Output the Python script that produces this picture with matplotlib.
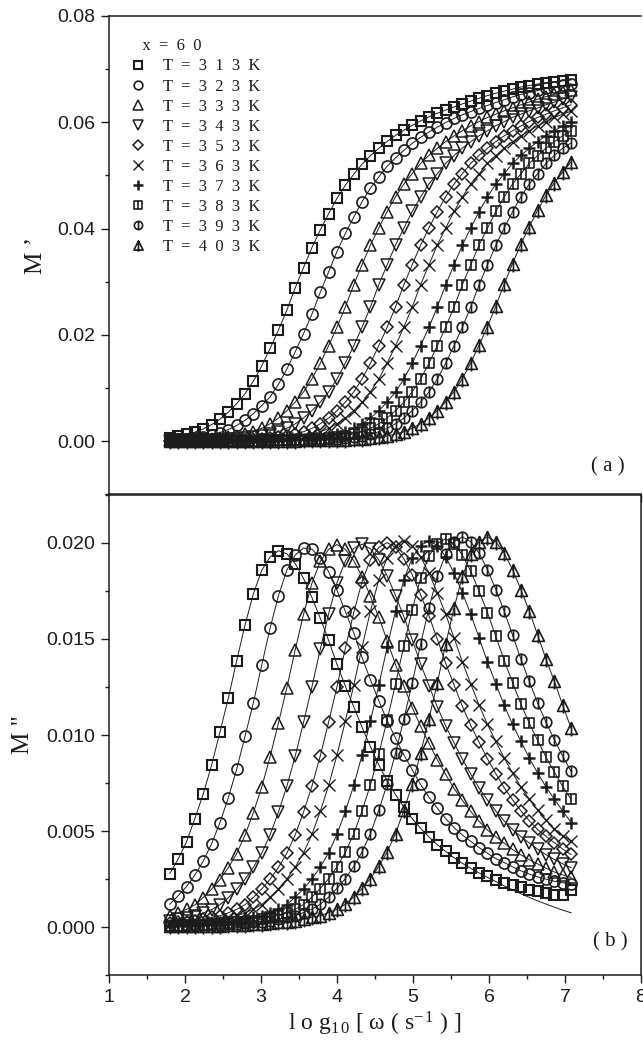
import matplotlib
matplotlib.use("Agg")
import matplotlib.pyplot as plt
from matplotlib.path import Path
from matplotlib.lines import Line2D
from matplotlib.ticker import MultipleLocator

plt.rcParams['font.family'] = 'Liberation Sans'
plt.rcParams['mathtext.fontset'] = 'custom'
plt.rcParams['mathtext.rm'] = 'Liberation Serif'
plt.rcParams['mathtext.it'] = 'Liberation Serif:italic'

# log10 of angular frequency (same sweep for every temperature)
log_w = [1.80, 1.91, 2.02, 2.13, 2.24, 2.35, 2.46, 2.57, 2.68, 2.79,
         2.90, 3.01, 3.12, 3.23, 3.34, 3.45, 3.56, 3.67, 3.78, 3.89,
         4.00, 4.11, 4.22, 4.33, 4.44, 4.55, 4.66, 4.77, 4.88, 4.99,
         5.10, 5.21, 5.32, 5.43, 5.54, 5.65, 5.76, 5.87, 5.98, 6.09,
         6.20, 6.31, 6.42, 6.53, 6.64, 6.75, 6.86, 6.97, 7.08]

temps = [313, 323, 333, 343, 353, 363, 373, 383, 393, 403]

# M' in units of 1e-3
mp_313 = [0.70, 0.93, 1.29, 1.72, 2.31, 3.13, 4.15, 5.49, 7.08, 8.95, 11.29, 14.18, 17.48, 20.92, 24.67, 28.84, 32.67,
          36.42, 39.75, 42.81, 45.70, 48.16, 50.21, 52.13, 53.72, 55.11, 56.40, 57.52, 58.49, 59.41, 60.26, 61.02,
          61.69, 62.30, 62.88, 63.45, 63.99, 64.52, 65.02, 65.47, 65.85, 66.23, 66.62, 66.91, 67.19, 67.42, 67.64,
          67.79, 67.94]
mp_323 = [0.35, 0.40, 0.51, 0.67, 0.87, 1.20, 1.64, 2.19, 2.97, 3.93, 5.20, 6.72, 8.36, 10.71, 13.58, 16.81, 20.24,
          23.91, 28.00, 31.88, 35.69, 39.09, 42.13, 45.08, 47.61, 49.72, 51.73, 53.29, 54.71, 56.02, 57.17, 58.16,
          59.07, 59.94, 60.71, 61.40, 62.01, 62.60, 63.17, 63.71, 64.24, 64.77, 65.23, 65.59, 65.97, 66.35, 66.67,
          66.92, 67.21]
mp_333 = [0.21, 0.25, 0.28, 0.33, 0.37, 0.42, 0.57, 0.72, 0.98, 1.34, 1.80, 2.43, 3.29, 4.36, 5.74, 7.37, 9.27,
          11.73, 14.67, 17.99, 21.45, 25.29, 29.41, 33.22, 36.88, 40.14, 43.18, 45.98, 48.37, 50.34, 52.25, 53.77,
          55.11, 56.36, 57.44, 58.40, 59.32, 60.13, 60.90, 61.52, 62.14, 62.70, 63.28, 63.80, 64.33, 64.83, 65.26,
          65.64, 66.02]
mp_343 = [0.13, 0.15, 0.18, 0.21, 0.24, 0.28, 0.32, 0.37, 0.43, 0.56, 0.73, 0.97, 1.35, 1.81, 2.45, 3.27, 4.38,
          5.76, 7.35, 9.30, 11.70, 14.70, 17.95, 21.48, 25.25, 29.45, 33.18, 36.92, 40.10, 43.22, 45.95, 48.40,
          50.30, 52.28, 53.74, 55.14, 56.33, 57.47, 58.38, 59.35, 60.10, 60.93, 61.50, 62.16, 62.68, 63.30, 63.78,
          64.35, 64.81]
mp_353 = [0.09, 0.10, 0.12, 0.13, 0.15, 0.18, 0.21, 0.25, 0.28, 0.33, 0.37, 0.42, 0.57, 0.72, 0.98, 1.34, 1.80,
          2.43, 3.29, 4.36, 5.74, 7.37, 9.27, 11.73, 14.67, 17.99, 21.45, 25.29, 29.41, 33.22, 36.88, 40.14, 43.18,
          45.98, 48.37, 50.34, 52.25, 53.77, 55.11, 56.36, 57.44, 58.40, 59.32, 60.13, 60.90, 61.52, 62.14, 62.70,
          63.28]
mp_363 = [0.06, 0.07, 0.09, 0.10, 0.12, 0.13, 0.15, 0.18, 0.21, 0.25, 0.29, 0.33, 0.38, 0.43, 0.56, 0.73, 0.97,
          1.35, 1.82, 2.41, 3.31, 4.34, 5.77, 7.34, 9.30, 11.70, 14.70, 17.95, 21.50, 25.25, 29.45, 33.18, 36.92,
          40.10, 43.22, 45.95, 48.40, 50.30, 52.28, 53.74, 55.14, 56.33, 57.47, 58.38, 59.35, 60.10, 60.93, 61.50,
          62.10]
mp_373 = [0.04, 0.05, 0.06, 0.06, 0.07, 0.09, 0.10, 0.12, 0.13, 0.15, 0.18, 0.21, 0.25, 0.28, 0.33, 0.37, 0.42,
          0.57, 0.72, 0.98, 1.34, 1.80, 2.43, 3.29, 4.36, 5.74, 7.37, 9.27, 11.73, 14.67, 17.99, 21.45, 25.29, 29.41,
          33.22, 36.88, 40.14, 43.18, 45.98, 48.37, 50.34, 52.25, 53.77, 55.11, 56.36, 57.44, 58.40, 59.32, 60.13]
mp_383 = [0.03, 0.03, 0.04, 0.05, 0.06, 0.06, 0.07, 0.09, 0.10, 0.12, 0.13, 0.15, 0.18, 0.21, 0.24, 0.28, 0.32,
          0.37, 0.43, 0.56, 0.73, 0.97, 1.35, 1.81, 2.45, 3.27, 4.38, 5.76, 7.35, 9.30, 11.70, 14.70, 17.95, 21.48,
          25.25, 29.45, 33.18, 36.92, 40.10, 43.22, 45.95, 48.40, 50.30, 52.28, 53.74, 55.14, 56.33, 57.47, 58.38]
mp_393 = [0.01, 0.02, 0.03, 0.03, 0.04, 0.05, 0.06, 0.06, 0.07, 0.09, 0.10, 0.12, 0.13, 0.15, 0.18, 0.21, 0.25,
          0.28, 0.33, 0.37, 0.42, 0.57, 0.72, 0.98, 1.34, 1.80, 2.43, 3.29, 4.36, 5.74, 7.37, 9.27, 11.73, 14.67,
          17.99, 21.45, 25.29, 29.41, 33.22, 36.88, 40.14, 43.18, 45.98, 48.37, 50.34, 52.25, 53.77, 55.11, 56.10]
mp_403 = [0.00, 0.00, 0.00, 0.01, 0.02, 0.03, 0.03, 0.04, 0.05, 0.06, 0.06, 0.07, 0.09, 0.10, 0.12, 0.13, 0.15,
          0.18, 0.21, 0.25, 0.28, 0.33, 0.37, 0.42, 0.57, 0.72, 0.99, 1.35, 1.81, 2.44, 3.31, 4.39, 5.77, 7.41, 9.32,
          11.80, 14.75, 18.09, 21.57, 25.44, 29.58, 33.41, 37.09, 40.37, 43.43, 46.25, 48.65, 50.63, 52.55]

# M'' in units of 1e-3
mpp_313 = [2.80, 3.55, 4.45, 5.66, 6.94, 8.43, 10.15, 11.92, 13.86, 15.72, 17.35, 18.56, 19.26, 19.58, 19.42, 18.91,
           18.14, 17.15, 16.07, 14.92, 13.67, 12.54, 11.47, 10.40, 9.40, 8.45, 7.62, 6.90, 6.25, 5.65, 5.15, 4.70,
           4.30, 3.95, 3.62, 3.33, 3.07, 2.85, 2.65, 2.48, 2.33, 2.20, 2.08, 1.97, 1.87, 1.78, 1.70, 1.68, 1.95]
mpp_323 = [1.20, 1.65, 2.12, 2.72, 3.45, 4.35, 5.45, 6.74, 8.22, 9.94, 11.68, 13.64, 15.56, 17.25, 18.57, 19.35,
           19.72, 19.66, 19.21, 18.48, 17.52, 16.43, 15.31, 14.03, 12.87, 11.78, 10.75, 9.84, 8.97, 8.19, 7.43, 6.77,
           6.20, 5.66, 5.19, 4.80, 4.47, 4.15, 3.85, 3.58, 3.37, 3.15, 2.94, 2.77, 2.63, 2.51, 2.40, 2.32, 2.28]
mpp_333 = [0.60, 0.76, 0.94, 1.17, 1.55, 1.99, 2.49, 3.10, 3.84, 4.79, 5.97, 7.30, 8.88, 10.63, 12.46, 14.43, 16.28,
           17.89, 19.02, 19.65, 19.90, 19.65, 19.06, 18.24, 17.21, 16.12, 14.91, 13.66, 12.54, 11.43, 10.45, 9.57,
           8.72, 7.95, 7.22, 6.60, 6.03, 5.51, 5.06, 4.71, 4.38, 4.05, 3.77, 3.52, 3.30, 3.08, 2.88, 2.73, 2.60]
mpp_343 = [0.34, 0.42, 0.50, 0.60, 0.75, 0.93, 1.18, 1.54, 1.98, 2.50, 3.12, 3.86, 4.82, 6.00, 7.33, 8.90, 10.66,
           12.50, 14.46, 16.30, 17.92, 19.05, 19.70, 19.92, 19.68, 19.10, 18.28, 17.25, 16.15, 14.95, 13.70, 12.57,
           11.46, 10.47, 9.60, 8.74, 7.97, 7.24, 6.62, 6.05, 5.53, 5.08, 4.72, 4.39, 4.06, 3.78, 3.53, 3.31, 3.10]
mpp_353 = [0.22, 0.26, 0.30, 0.34, 0.42, 0.52, 0.60, 0.76, 0.94, 1.18, 1.56, 2.00, 2.50, 3.12, 3.86, 4.81, 6.00,
           7.34, 8.92, 10.68, 12.52, 14.50, 16.36, 17.98, 19.12, 19.75, 20.00, 19.75, 19.16, 18.33, 17.30, 16.20,
           14.98, 13.73, 12.60, 11.49, 10.50, 9.62, 8.76, 7.99, 7.26, 6.63, 6.06, 5.54, 5.09, 4.73, 4.40, 4.07, 3.79]
mpp_363 = [0.16, 0.17, 0.22, 0.26, 0.30, 0.34, 0.42, 0.52, 0.60, 0.76, 0.94, 1.19, 1.57, 2.01, 2.51, 3.14, 3.88,
           4.83, 6.03, 7.38, 8.96, 10.73, 12.58, 14.57, 16.44, 18.07, 19.22, 19.85, 20.10, 19.85, 19.26, 18.42,
           17.39, 16.28, 15.05, 13.80, 12.66, 11.55, 10.55, 9.67, 8.80, 8.03, 7.30, 6.66, 6.09, 5.57, 5.12, 4.75, 4.50]
mpp_373 = [0.10, 0.12, 0.14, 0.16, 0.17, 0.22, 0.26, 0.30, 0.34, 0.42, 0.52, 0.60, 0.76, 0.94, 1.19, 1.57, 2.01,
           2.51, 3.14, 3.88, 4.83, 6.03, 7.38, 8.96, 10.73, 12.58, 14.57, 16.44, 18.07, 19.22, 19.85, 20.10, 19.85,
           19.26, 18.42, 17.39, 16.28, 15.05, 13.80, 12.66, 11.55, 10.55, 9.67, 8.80, 8.03, 7.30, 6.66, 6.05, 5.45]
mpp_383 = [0.08, 0.09, 0.10, 0.12, 0.14, 0.16, 0.17, 0.22, 0.26, 0.30, 0.34, 0.42, 0.53, 0.61, 0.77, 0.95, 1.19,
           1.58, 2.02, 2.53, 3.15, 3.90, 4.86, 6.06, 7.41, 9.01, 10.79, 12.65, 14.65, 16.52, 18.16, 19.31, 19.95,
           20.20, 19.95, 19.35, 18.51, 17.47, 16.36, 15.13, 13.87, 12.73, 11.60, 10.61, 9.72, 8.85, 8.07, 7.33, 6.65]
mpp_393 = [0.06, 0.07, 0.08, 0.09, 0.10, 0.12, 0.14, 0.16, 0.17, 0.22, 0.26, 0.30, 0.35, 0.43, 0.53, 0.61, 0.77,
           0.95, 1.20, 1.58, 2.03, 2.54, 3.17, 3.92, 4.88, 6.09, 7.45, 9.05, 10.84, 12.71, 14.72, 16.61, 18.25,
           19.41, 20.05, 20.30, 20.05, 19.45, 18.60, 17.56, 16.44, 15.20, 13.94, 12.79, 11.66, 10.66, 9.76, 8.89, 8.11]
mpp_403 = [0.05, 0.05, 0.06, 0.06, 0.07, 0.08, 0.09, 0.10, 0.12, 0.14, 0.16, 0.17, 0.22, 0.26, 0.30, 0.35, 0.43,
           0.53, 0.61, 0.77, 0.95, 1.20, 1.58, 2.03, 2.54, 3.17, 3.92, 4.88, 6.09, 7.45, 9.05, 10.84, 12.71, 14.72,
           16.61, 18.25, 19.41, 20.05, 20.30, 20.05, 19.45, 18.60, 17.56, 16.44, 15.20, 13.94, 12.79, 11.55, 10.35]

# fitted M'' curve for 313 K above log_w = 5.76, where it leaves the data
fit_313_tail = [3.07, 2.83, 2.60, 2.38, 2.16, 1.95, 1.75, 1.56, 1.38, 1.21, 1.05, 0.90, 0.76]

m_real = [mp_313, mp_323, mp_333, mp_343, mp_353, mp_363, mp_373, mp_383, mp_393, mp_403]
m_imag = [mpp_313, mpp_323, mpp_333, mpp_343, mpp_353, mpp_363, mpp_373, mpp_383, mpp_393, mpp_403]

# open symbols with a vertical bar through them
square = Path([(-1, -1), (1, -1), (1, 1), (-1, 1), (-1, -1)],
              [Path.MOVETO, Path.LINETO, Path.LINETO, Path.LINETO, Path.CLOSEPOLY])
triangle = Path([(0, 1), (-1, -1), (1, -1), (0, 1)],
                [Path.MOVETO, Path.LINETO, Path.LINETO, Path.CLOSEPOLY])
sq_bar = Path.make_compound_path(square, Path([(0, -1), (0, 1)]))
circ_bar = Path.make_compound_path(Path.unit_circle(), Path([(0, -1), (0, 1)]))
tri_bar = Path.make_compound_path(triangle, Path([(0, -1.35), (0, 1)]))

styles = [
    dict(marker='s', ms=7.0, mew=1.5),
    dict(marker='o', ms=8.0, mew=1.2),
    dict(marker='^', ms=9.2, mew=1.1),
    dict(marker='v', ms=9.2, mew=1.1),
    dict(marker='D', ms=6.5, mew=1.1),
    dict(marker='x', ms=8.5, mew=1.0),
    dict(marker='+', ms=8.5, mew=1.8),
    dict(marker=sq_bar, ms=6.5, mew=1.2),
    dict(marker=circ_bar, ms=7.6, mew=1.2),
    dict(marker=tri_bar, ms=11.5, mew=1.2),
]

ink = '#1c1c1c'
serif = 'Liberation Serif'

fig = plt.figure(figsize=(6.43, 10.46), dpi=100)
ax1 = fig.add_axes([0.1695, 0.5273, 0.8274, 0.4575])
ax2 = fig.add_axes([0.1695, 0.0674, 0.8274, 0.4598])

for vals, st in zip(m_real, styles):
    ax1.plot(log_w, [v * 1e-3 for v in vals], color=ink, lw=0.7, mfc='none', mec=ink, **st)

for k, (vals, st) in enumerate(zip(m_imag, styles)):
    y = [v * 1e-3 for v in vals]
    if k == 0:
        # 313 K: thin fit line follows the data, then its own tail
        line_y = y[:36] + [v * 1e-3 for v in fit_313_tail]
        ax2.plot(log_w, line_y, color=ink, lw=0.7)
        ax2.plot(log_w, y, ls='none', mfc='none', mec=ink, **st)
    else:
        ax2.plot(log_w, y, color=ink, lw=0.7, mfc='none', mec=ink, **st)

ax1.set_ylim(-0.01, 0.08)
ax1.yaxis.set_major_locator(MultipleLocator(0.02))
ax1.yaxis.set_minor_locator(MultipleLocator(0.01))
ax1.set_yticklabels([f'{t:.2f}' for t in ax1.get_yticks()])
ax1.set_ylim(-0.01, 0.08)

ax2.set_ylim(-0.0025, 0.0225)
ax2.yaxis.set_major_locator(MultipleLocator(0.005))
ax2.yaxis.set_minor_locator(MultipleLocator(0.0025))
ax2.set_yticklabels([f'{t:.3f}' for t in ax2.get_yticks()])
ax2.set_ylim(-0.0025, 0.0225)

for ax in (ax1, ax2):
    ax.set_xlim(1, 8)
    ax.xaxis.set_major_locator(MultipleLocator(1))
    ax.xaxis.set_minor_locator(MultipleLocator(0.5))
    ax.tick_params(which='both', direction='out', top=False, right=False,
                   width=1.0, labelsize=14, pad=4, color=ink, labelcolor=ink)
    ax.tick_params(which='major', length=6)
    ax.tick_params(which='minor', length=3.2)
    for sp in ax.spines.values():
        sp.set_linewidth(1.1)
        sp.set_color(ink)
ax1.tick_params(labelbottom=False)
ax1.spines['right'].set_visible(False)

ax1.set_ylabel('M \u2019', family=serif, fontsize=18, color=ink)
ax1.yaxis.set_label_coords(-0.116, 0.5)
ax2.set_ylabel('M "', family=serif, fontsize=18, color=ink)
ax2.yaxis.set_label_coords(-0.141, 0.5)
ax2.set_xlabel(r'l o g$_{1\,0}$ [ ω ( s$^{-\,1}$ ) ]', family=serif, fontsize=17, color=ink)
ax2.xaxis.set_label_coords(0.5, -0.072)

ax1.text(0.97, 0.057, '( a )', transform=ax1.transAxes, ha='right', va='center',
         family=serif, fontsize=15, color=ink)
ax2.text(0.975, 0.07, '( b )', transform=ax2.transAxes, ha='right', va='center',
         family=serif, fontsize=15, color=ink)

handles = [Line2D([], [], ls='none', color=ink, mfc='none', mec=ink, **st) for st in styles]
labels = ['T  =  ' + '  '.join(str(t)) + '  K' for t in temps]
leg = ax1.legend(handles, labels, loc='upper left', bbox_to_anchor=(0.039, 0.953),
                 frameon=False, borderpad=0, borderaxespad=0, handlelength=1.0,
                 handletextpad=0.99, labelspacing=0.245, markerscale=0.78,
                 title='   x  =  6  0', alignment='left',
                 prop={'family': serif, 'size': 12}, title_fontproperties={'family': serif, 'size': 12})
for t in leg.get_texts():
    t.set_color(ink)
leg.get_title().set_color(ink)

fig.savefig('out.png', dpi=100)
